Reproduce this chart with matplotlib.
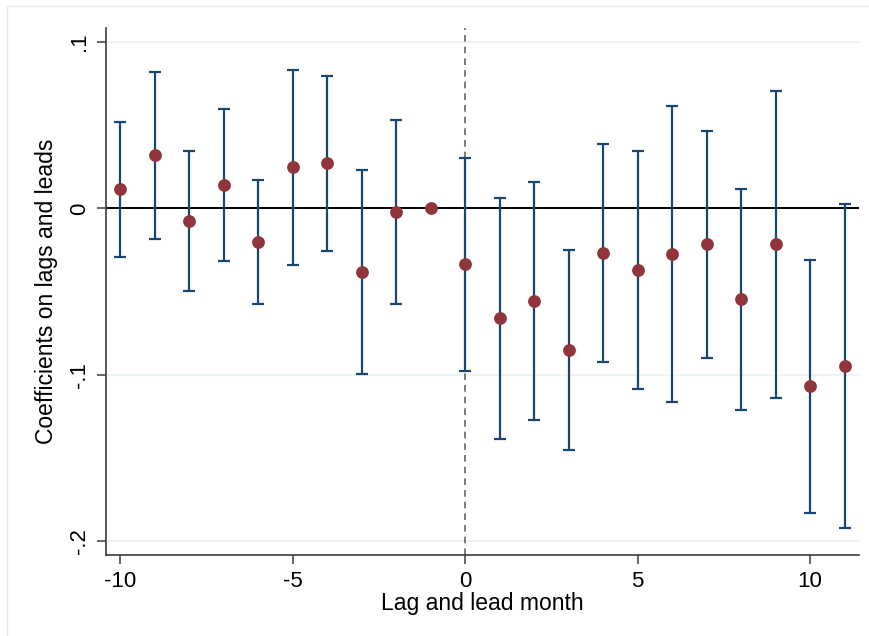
import numpy as np
import matplotlib
matplotlib.use('Agg')
import matplotlib.pyplot as plt
from matplotlib.lines import Line2D

plt.rcParams['font.family'] = ['Liberation Sans', 'DejaVu Sans']

months = np.arange(-10, 12)
coef = [0.0114, 0.0319, -0.0076, 0.0140, -0.0203, 0.0248, 0.0271, -0.0383, -0.0024, 0.0,
        -0.0335, -0.0658, -0.0558, -0.0853, -0.0267, -0.0369, -0.0273, -0.0217, -0.0548, -0.0217,
        -0.1069, -0.0949]
ci_hi = [0.0521, 0.0820, 0.0343, 0.0599, 0.0170, 0.0832, 0.0798, 0.0230, 0.0529, np.nan,
         0.0305, 0.0064, 0.0156, -0.0251, 0.0387, 0.0347, 0.0616, 0.0465, 0.0114, 0.0706,
         -0.0311, 0.0026]
ci_lo = [-0.0291, -0.0187, -0.0498, -0.0319, -0.0576, -0.0339, -0.0255, -0.0998, -0.0578, np.nan,
         -0.0979, -0.1388, -0.1276, -0.1456, -0.0927, -0.1087, -0.1163, -0.0899, -0.1211, -0.1139,
         -0.1831, -0.1922]
yticks = [-0.2, -0.1, 0, 0.1]
ytick_labels = ['-.2', '-.1', '0', '.1']
xticks = [-10, -5, 0, 5, 10]

coef = np.array(coef)
ci_hi = np.array(ci_hi)
ci_lo = np.array(ci_lo)

fig = plt.figure(figsize=(8.7, 6.36), dpi=100)
ax = fig.add_axes([106 / 870, 81 / 636, 753 / 870, 527 / 636])

# faint outer frame (Stata graph region)
fig.add_artist(Line2D([7 / 870, 7 / 870], [0, 1 - 6 / 636], transform=fig.transFigure,
                      color='#e4eaec', lw=1))
fig.add_artist(Line2D([7 / 870, 1], [1 - 6 / 636, 1 - 6 / 636], transform=fig.transFigure,
                      color='#e4eaec', lw=1))

for y in yticks:
    ax.axhline(y, color='#eaf2f3', lw=1.2, zorder=0)
ax.axhline(0, color='black', lw=1.4, zorder=1)
ax.axvline(0, color='#666666', lw=1.2, ls=(0, (4, 3)), zorder=1)

yerr = np.vstack([coef - ci_lo, ci_hi - coef])
ax.errorbar(months, coef, yerr=yerr, fmt='none', ecolor='#1a476f', elinewidth=1.6,
            capsize=4, capthick=1.6, zorder=2)
ax.scatter(months, coef, s=85, color='#90353b', zorder=3, linewidths=0)

ax.set_xlim(-10.41, 11.42)
ax.set_ylim(-0.2086, 0.1085)
ax.set_xticks(xticks)
ax.set_xticklabels([str(x) for x in xticks])
ax.set_yticks(yticks)
ax.set_yticklabels(ytick_labels, rotation=90, va='center')

for side in ['top', 'right']:
    ax.spines[side].set_visible(False)
for side in ['left', 'bottom']:
    ax.spines[side].set_color('#3c3c3c')
    ax.spines[side].set_linewidth(1.2)

ax.tick_params(axis='both', direction='out', length=6.5, width=1.1, color='#3c3c3c',
               labelsize=16, pad=5)
ax.set_xlabel('Lag and lead month', fontsize=16.5, labelpad=0)
ax.set_ylabel('Coefficients on lags and leads', fontsize=16.5, labelpad=8)

fig.savefig('out.png', dpi=100)
